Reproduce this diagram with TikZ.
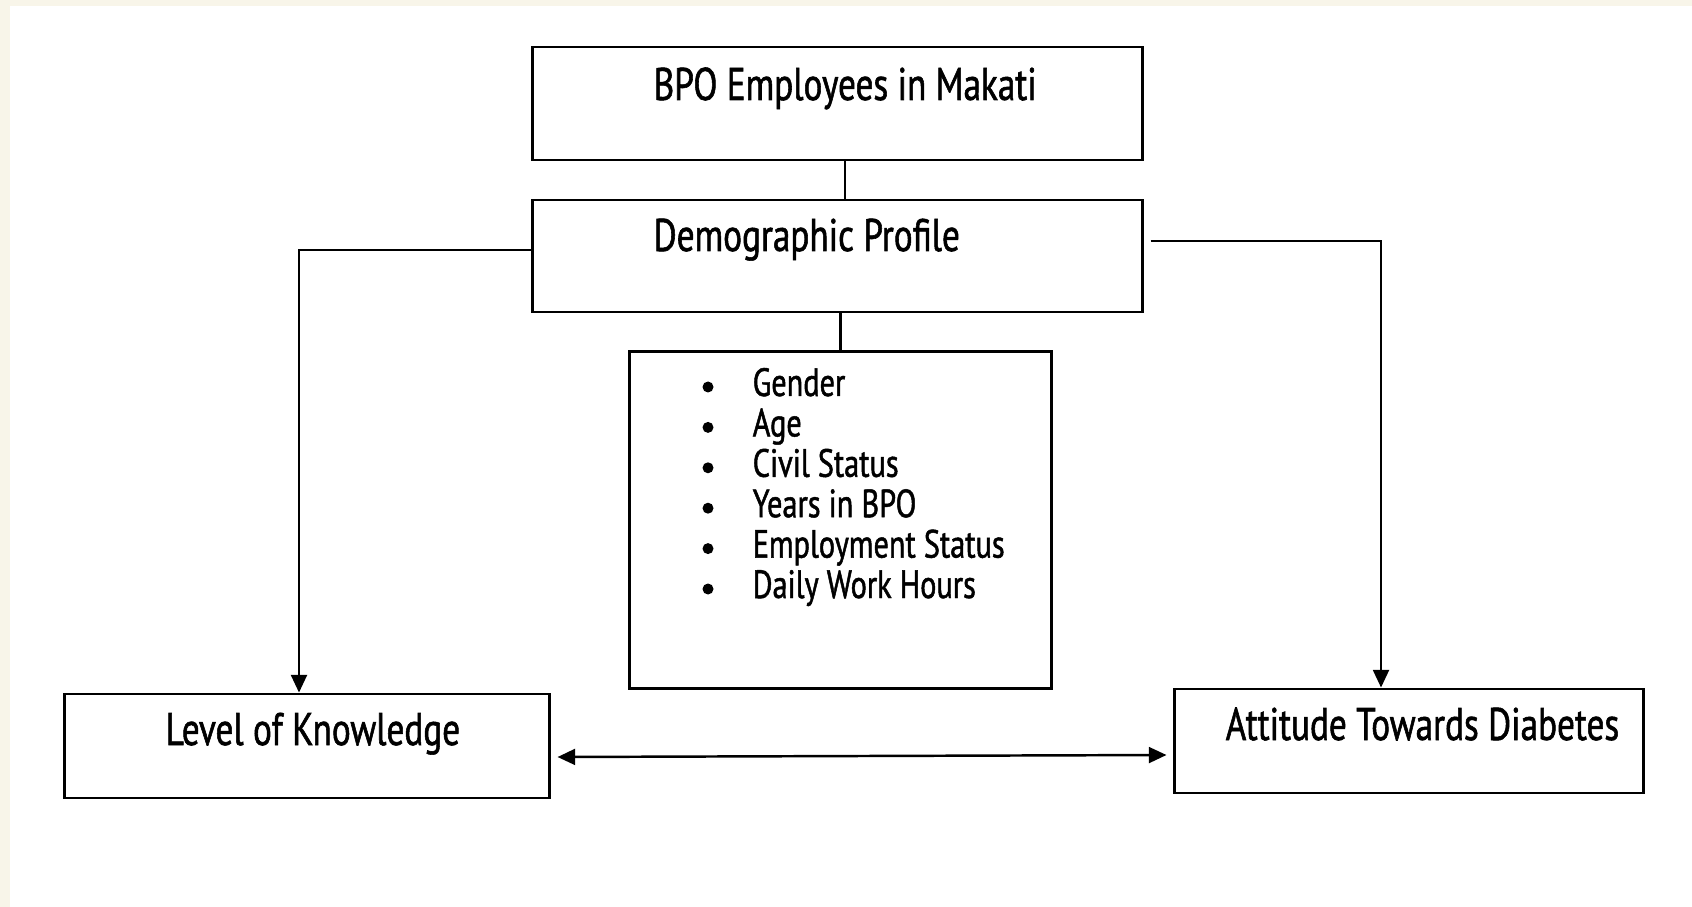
\documentclass[tikz,border=0pt]{standalone}
\usepackage{fontspec}
\setmainfont{PT Sans}[FakeStretch=0.77, FakeBold=1.2]
\usetikzlibrary{arrows.meta,calc,positioning}
\definecolor{paper}{HTML}{F8F5E9}

\tikzset{
    box/.style={draw, line width=0.8pt, inner sep=0pt},
    title/.style={anchor=base west, inner sep=0pt, font=\fontsize{13}{15}\selectfont},
    item/.style={anchor=base west, inner sep=0pt, font=\fontsize{11.2}{14}\selectfont},
    link/.style={line width=0.7pt},
    arrow/.style={line width=0.7pt, -{Triangle[length=5pt,width=4.5pt]}}
}

\begin{document}
\begin{tikzpicture}[x=0.01cm, y=-0.01cm]
    % page with its cream edge
    \fill[paper] (0, 0) rectangle (1692, 907);
    \fill[white] (10, 6) rectangle (1692, 907);

    % boxes
    \node[box, minimum width=6.09cm, minimum height=1.13cm] (bpo) at (837.5, 103.5) {};
    \node[box, minimum width=6.09cm, minimum height=1.12cm] (profile) at (837.5, 256) {};
    \node[box, minimum width=4.21cm, minimum height=3.36cm] (factors) at (840.5, 520) {};
    \node[box, minimum width=4.84cm, minimum height=1.04cm] (knowledge) at (307, 746) {};
    \node[box, minimum width=4.68cm, minimum height=1.04cm] (attitude) at (1409, 741) {};

    % box titles
    \node[title] (bpotext) at (653, 100) {BPO Employees in Makati};
    \node[title] (profiletext) at (653, 251) {Demographic Profile};
    \node[title] (knowledgetext) at (165, 745) {Level of Knowledge};
    \node[title] (attitudetext) at (1225, 740) {Attitude Towards Diabetes};

    % profile items
    \foreach \t [count=\i from 0] in {Gender, Age, Civil Status, Years in BPO, Employment Status, Daily Work Hours} {
        \fill (708, 387 + 40.4*\i) circle (5.5);
        \node[item] (item\i) at (752, 396 + 40.4*\i) {\t};
    }

    % connectors
    \draw[link] ($(bpo.south)+(7.5, 0)$) -- ($(profile.north)+(7.5, 0)$);
    \draw[link] (factors.north) -- (factors.north |- profile.south);
    \draw[arrow] ($(profile.west)+(0, -6)$) -| ($(knowledge.north)+(-8, 0)$);
    \draw[arrow] ($(profile.east)+(7, -15)$) -| ($(attitude.north)+(-28, 0)$);
    \draw[link, {Triangle[length=5pt,width=4.5pt]}-{Triangle[length=5pt,width=4.5pt]}]
        ($(knowledge.east)+(7, 11)$) -- ($(attitude.west)+(-7, 14)$);
\end{tikzpicture}
\end{document}
